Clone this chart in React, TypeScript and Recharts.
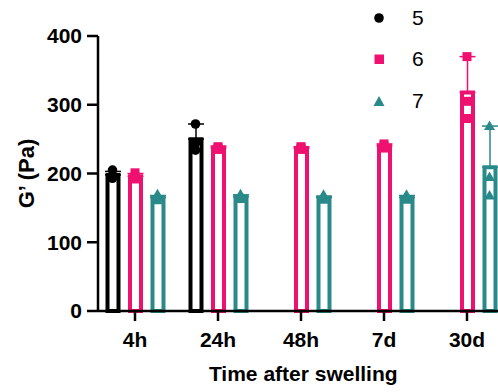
import React from "react";
import {
  ComposedChart,
  Bar,
  ErrorBar,
  Scatter,
  XAxis,
  YAxis,
  Legend,
} from "recharts";

const TIMES = ["4h", "24h", "48h", "7d", "30d"];

// group means (Pa)
const MEAN_5 = [198, 250, null, null, null];
const MEAN_6 = [196, 237, 237, 240, 318];
const MEAN_7 = [165, 166, 165, 165, 209];

// upward SD
const SD_5 = [5, 22, null, null, null];
const SD_6 = [4, 3, 2, 3, 52];
const SD_7 = [3, 3, 2, 3, 60];

// individual replicates
const PTS_5 = [[205, 197, 193], [272, 244, 234], [], [], []];
const PTS_6 = [
  [201, 195, 192],
  [239, 237, 235],
  [239, 237, 235],
  [243, 240, 237],
  [370, 305, 280],
];
const PTS_7 = [
  [170, 165, 161],
  [170, 165, 163],
  [169, 165, 162],
  [169, 165, 162],
  [269, 195, 168],
];

const Y_TICKS = [0, 100, 200, 300, 400];

const COLORS = {
  s5: "#000000",
  s6: "#EE1170",
  s7: "#2A8A8A",
};

const FONT = "'Liberation Sans', Arial, Helvetica, sans-serif";
const BAR_SIZE = 11;
const BAR_GAP = 11.5;
const STEP = BAR_SIZE + BAR_GAP;

const rows = TIMES.map((t, i) => ({
  time: t,
  m5: MEAN_5[i],
  m6: MEAN_6[i],
  m7: MEAN_7[i],
  e5: SD_5[i] == null ? undefined : [0, SD_5[i]],
  e6: [0, SD_6[i]],
  e7: [0, SD_7[i]],
}));

const toPoints = (pts: number[][]) =>
  TIMES.flatMap((t, i) => pts[i].map((v) => ({ time: t, v })));

const points5 = toPoints(PTS_5);
const points6 = toPoints(PTS_6);
const points7 = toPoints(PTS_7);

const Dot = (off: number) => (p: any) =>
  p.cx == null ? <g /> : <circle cx={p.cx + off} cy={p.cy} r={4.8} fill={COLORS.s5} />;

const Square = (off: number) => (p: any) =>
  p.cx == null ? (
    <g />
  ) : (
    <rect x={p.cx + off - 4.5} y={p.cy - 4.5} width={9} height={9} fill={COLORS.s6} />
  );

const Tri = (off: number) => (p: any) => {
  if (p.cx == null) return <g />;
  const x = p.cx + off;
  const y = p.cy;
  return <polygon points={`${x},${y - 5.5} ${x + 5.5},${y + 4} ${x - 5.5},${y + 4}`} fill={COLORS.s7} />;
};

const LEGEND = [
  { label: "5", color: COLORS.s5, shape: "circle" },
  { label: "6", color: COLORS.s6, shape: "square" },
  { label: "7", color: COLORS.s7, shape: "triangle" },
];

function LegendBox() {
  return (
    <div style={{ fontFamily: FONT, fontSize: 21, color: "#000" }}>
      {LEGEND.map((l) => (
        <div key={l.label} style={{ display: "flex", alignItems: "center", height: 41.5 }}>
          <svg width={12} height={12} style={{ marginRight: 27 }}>
            {l.shape === "circle" && <circle cx={6} cy={6} r={4.8} fill={l.color} />}
            {l.shape === "square" && <rect x={1.5} y={1.5} width={9.5} height={9.5} fill={l.color} />}
            {l.shape === "triangle" && <polygon points="6,1 11.5,11 0.5,11" fill={l.color} />}
          </svg>
          <span>{l.label}</span>
        </div>
      ))}
    </div>
  );
}

const tickStyle = { fontSize: 21, fontWeight: 700, fill: "#000", fontFamily: FONT };

export default function App() {
  return (
    <div
      style={{
        position: "absolute",
        top: 0,
        left: 0,
        width: 498,
        height: 392,
        overflow: "hidden",
        background: "#fff",
      }}
    >
      <ComposedChart
        width={520}
        height={392}
        data={rows}
        margin={{ top: 36, right: 11.5, left: 0, bottom: 0 }}
        barSize={BAR_SIZE}
        barGap={BAR_GAP}
      >
        <XAxis
          dataKey="time"
          allowDuplicatedCategory={false}
          padding={{ left: -4.5, right: 0 }}
          height={81}
          tick={tickStyle}
          tickSize={10}
          tickMargin={11}
          axisLine={{ stroke: "#000", strokeWidth: 2.5 }}
          tickLine={{ stroke: "#000", strokeWidth: 2.5 }}
          label={{
            value: "Time after swelling",
            position: "insideBottom",
            offset: 11,
            style: { fontSize: 21, fontWeight: 700, fill: "#000", fontFamily: FONT },
          }}
        />
        <YAxis
          type="number"
          domain={[0, 400]}
          ticks={Y_TICKS}
          width={98}
          tick={tickStyle}
          tickSize={11}
          tickMargin={5}
          axisLine={{ stroke: "#000", strokeWidth: 2.5 }}
          tickLine={{ stroke: "#000", strokeWidth: 2.5 }}
          label={{
            value: "G’ (Pa)",
            angle: -90,
            position: "insideLeft",
            offset: 26,
            style: { fontSize: 22, fontWeight: 700, fill: "#000", fontFamily: FONT, textAnchor: "middle" },
          }}
        />
        <Legend
          layout="vertical"
          align="center"
          verticalAlign="middle"
          content={() => <LegendBox />}
          wrapperStyle={{ top: -3, left: 373, width: 80 }}
        />
        <Bar dataKey="m5" fill="#fff" stroke={COLORS.s5} strokeWidth={4} isAnimationActive={false}>
          <ErrorBar dataKey="e5" direction="y" width={8} stroke={COLORS.s5} strokeWidth={1.5} />
        </Bar>
        <Bar dataKey="m6" fill="#fff" stroke={COLORS.s6} strokeWidth={4} isAnimationActive={false}>
          <ErrorBar dataKey="e6" direction="y" width={8} stroke={COLORS.s6} strokeWidth={1.5} />
        </Bar>
        <Bar dataKey="m7" fill="#fff" stroke={COLORS.s7} strokeWidth={4} isAnimationActive={false}>
          <ErrorBar dataKey="e7" direction="y" width={8} stroke={COLORS.s7} strokeWidth={1.5} />
        </Bar>
        <Scatter data={points5} dataKey="v" shape={Dot(-STEP)} isAnimationActive={false} legendType="none" />
        <Scatter data={points6} dataKey="v" shape={Square(0)} isAnimationActive={false} legendType="none" />
        <Scatter data={points7} dataKey="v" shape={Tri(STEP)} isAnimationActive={false} legendType="none" />
      </ComposedChart>
    </div>
  );
}
